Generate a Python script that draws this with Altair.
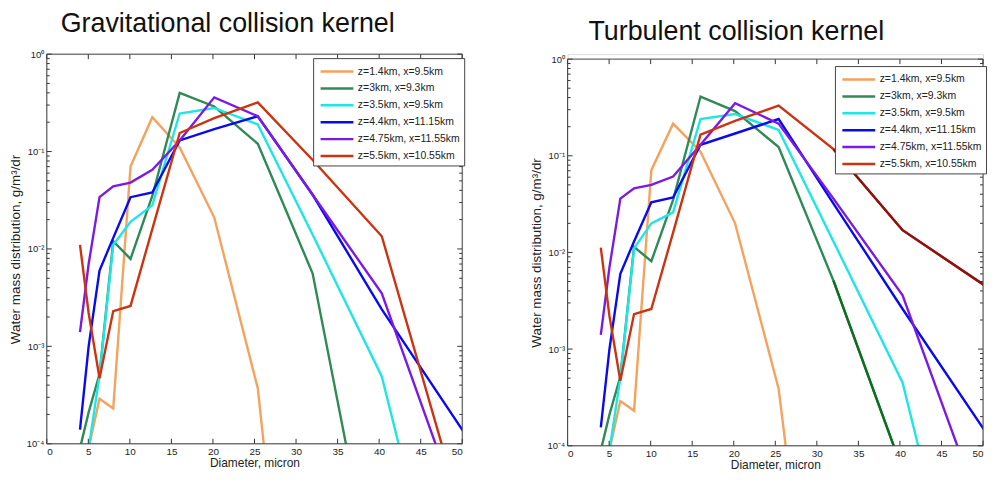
import altair as alt
import pandas as pd

# Diameter grid (micron)
D = [4, 5.04, 6.35, 8, 10.08, 12.7, 16, 20.16, 25.4, 32, 40.32, 50.8]

names = [
    "z=1.4km, x=9.5km",
    "z=3km, x=9.3km",
    "z=3.5km, x=9.5km",
    "z=4.4km, x=11.15km",
    "z=4.75km, x=11.55km",
    "z=5.5km, x=10.55km",
]
colors = ["#F5A25D", "#2E8B57", "#1FE6E6", "#0A0AF0", "#7B1AE6", "#CC3311"]

# Gravitational collision kernel (left)
grav_orange = [2e-5, 9e-5, 2.9e-4, 2.3e-4, 0.07, 0.225, 0.11, 0.021, 3.7e-4, 2e-9]
grav_green = [9e-5, 2.1e-4, 5.2e-4, 0.012, 0.0079, 0.035, 0.40, 0.29, 0.12, 0.0056, 1.3e-6]
grav_cyan = [1e-5, 9e-5, 5e-4, 0.011, 0.019, 0.028, 0.246, 0.28, 0.19, 0.014, 4.9e-4, 1.3e-7]
grav_blue = [1.4e-4, 1e-3, 0.006, 0.013, 0.034, 0.038, 0.13, 0.17, 0.23, 0.036, 0.0024, 1.1e-4]
grav_purple = [0.0014, 0.007, 0.034, 0.044, 0.048, 0.065, 0.13, 0.36, 0.23, 0.036, 0.0035, 1.1e-5]
grav_red = [0.011, 0.0022, 4.7e-4, 0.0023, 0.0026, 0.016, 0.155, 0.22, 0.32, 0.082, 0.0135, 1.07e-5]

# Turbulent collision kernel (right)
turb_orange = [2e-5, 9e-5, 2.9e-4, 2.3e-4, 0.071, 0.215, 0.11, 0.02, 3.9e-4, 1e-8]
turb_green = [9e-5, 2.1e-4, 5.2e-4, 0.0114, 0.0081, 0.035, 0.41, 0.29, 0.123, 0.0051, 5.6e-5]
turb_cyan = [1e-5, 9e-5, 5e-4, 0.011, 0.02, 0.026, 0.24, 0.27, 0.185, 0.013, 4.5e-4, 1e-7]
turb_blue = [1.55e-4, 1e-3, 0.006, 0.013, 0.033, 0.037, 0.13, 0.17, 0.24, 0.032, 0.0026, 1.2e-4]
turb_purple = [0.0014, 0.007, 0.036, 0.046, 0.05, 0.061, 0.13, 0.35, 0.215, 0.036, 0.0036, 1.2e-5]
turb_red = [0.0112, 0.0022, 4.7e-4, 0.0023, 0.0026, 0.016, 0.165, 0.23, 0.33, 0.117, 0.017, 0.0042]

grav = [grav_orange, grav_green, grav_cyan, grav_blue, grav_purple, grav_red]
turb = [turb_orange, turb_green, turb_cyan, turb_blue, turb_purple, turb_red]

y_major = [1e-4, 1e-3, 1e-2, 1e-1, 1]
y_minor = [k * 10.0 ** e for e in (-4, -3, -2, -1) for k in range(2, 10)]
x_ticks = list(range(0, 51, 5))
x_edges = [0, 50]
y_edges = [1e-4, 1]


def make_df(series):
    rows = []
    for i, vals in enumerate(series):
        for d, v in zip(D, vals):
            rows.append({"d": d, "v": v, "s": names[i]})
    return pd.DataFrame(rows)


FONT = "Liberation Sans"
INK = "#222"
LABEL_EXPR = (
    "datum.value >= 0.9 ? '10⁰' : datum.value >= 0.09 ? '10⁻¹' : "
    "datum.value >= 0.009 ? '10⁻²' : datum.value >= 0.0009 ? '10⁻³' : '10⁻⁴'"
)


def panel(series, title, w, h, top, t_offset, t_dx, lx, ly, tails=()):
    xs = alt.Scale(domain=[0, 50], nice=False, zero=False)
    ys = alt.Scale(type="log", domain=[1e-4, 1], nice=False, range=[h, top])
    df = make_df(series)
    lines = alt.Chart(df).mark_line(strokeWidth=2.4, clip=True).encode(
        x=alt.X("d:Q", scale=xs, axis=alt.Axis(
            values=x_ticks, ticks=False, title="Diameter,  micron",
            labelFontSize=10, labelFont=FONT, labelColor=INK, labelPadding=3,
            titleFontSize=12, titleFont=FONT, titleFontWeight="normal", titleColor=INK,
            titlePadding=1, domain=False, grid=False)),
        y=alt.Y("v:Q", scale=ys, axis=alt.Axis(
            values=y_major, labelExpr=LABEL_EXPR, ticks=False,
            title="Water mass distribution,  g/m³/dr",
            labelFontSize=9.5, labelFont=FONT, labelColor=INK, labelPadding=3,
            minExtent=22, maxExtent=22,
            titleFontSize=13.5, titleFont=FONT, titleFontWeight="normal", titleColor=INK,
            titlePadding=2, domain=False, grid=False)),
        color=alt.Color("s:N", scale=alt.Scale(domain=names, range=colors), legend=alt.Legend(
            title=None, orient="none", legendX=lx, legendY=ly,
            symbolType="M-0.75,0L3.375,0", symbolSize=256, symbolStrokeWidth=2.5,
            labelFont=FONT, labelFontSize=10.5, labelColor=INK, labelOffset=22,
            strokeColor="#444", fillColor="white", padding=4, rowPadding=2,
            labelLimit=220)),
    )
    layers = [lines]
    for tdf, col in tails:
        layers.append(alt.Chart(tdf).mark_line(strokeWidth=2.4, clip=True, color=col).encode(
            x=alt.X("d:Q", scale=xs), y=alt.Y("v:Q", scale=ys)))
    maj = pd.DataFrame({"v": y_major})
    mnr = pd.DataFrame({"v": y_minor})
    xt = pd.DataFrame({"d": x_ticks})
    tick_style = dict(color="#333", strokeWidth=1)
    frame_style = dict(color="#444", strokeWidth=1)
    layers += [
        alt.Chart(maj).mark_rule(**tick_style).encode(y=alt.Y("v:Q", scale=ys), x=alt.value(0), x2=alt.value(5)),
        alt.Chart(mnr).mark_rule(**tick_style).encode(y=alt.Y("v:Q", scale=ys), x=alt.value(0), x2=alt.value(3)),
        alt.Chart(maj).mark_rule(**tick_style).encode(y=alt.Y("v:Q", scale=ys), x=alt.value(w - 5), x2=alt.value(w)),
        alt.Chart(mnr).mark_rule(**tick_style).encode(y=alt.Y("v:Q", scale=ys), x=alt.value(w - 3), x2=alt.value(w)),
        alt.Chart(xt).mark_rule(**tick_style).encode(x=alt.X("d:Q", scale=xs), y=alt.value(h - 5), y2=alt.value(h)),
        alt.Chart(xt).mark_rule(**tick_style).encode(x=alt.X("d:Q", scale=xs), y=alt.value(top), y2=alt.value(top + 5)),
        # frame
        alt.Chart(pd.DataFrame({"v": y_edges})).mark_rule(**frame_style).encode(
            y=alt.Y("v:Q", scale=ys), x=alt.value(0), x2=alt.value(w)),
        alt.Chart(pd.DataFrame({"d": x_edges})).mark_rule(**frame_style).encode(
            x=alt.X("d:Q", scale=xs), y=alt.value(top), y2=alt.value(h)),
    ]
    return alt.layer(*layers).properties(
        width=w, height=h,
        title=alt.TitleParams(title, anchor="start", dx=t_dx, offset=t_offset, fontSize=27,
                              font=FONT, fontWeight="normal", color="#111"),
    )


turb_df = make_df(turb)
green_tail = turb_df[(turb_df.s == names[1]) & (turb_df.d >= 32)]
red_tail = turb_df[(turb_df.s == names[5]) & (turb_df.d >= 32)]

left = panel(grav, "Gravitational collision kernel", 418, 392, 0, 11, 52, 268, 4)
right = panel(turb, "Turbulent collision kernel", 418, 394, 5, 8, 59, 269, 12,
              tails=[(green_tail, "#0E6E1E"), (red_tail, "#8B1212")])

chart = alt.hconcat(left, right, spacing=64).resolve_scale(
    color="independent"
).resolve_legend(color="independent").properties(
    padding={"left": 0, "top": 0, "right": 0, "bottom": 0}
).configure_view(stroke="transparent").configure(background="white")

chart.save("out.html", embed_options={"renderer": "svg", "actions": False})
